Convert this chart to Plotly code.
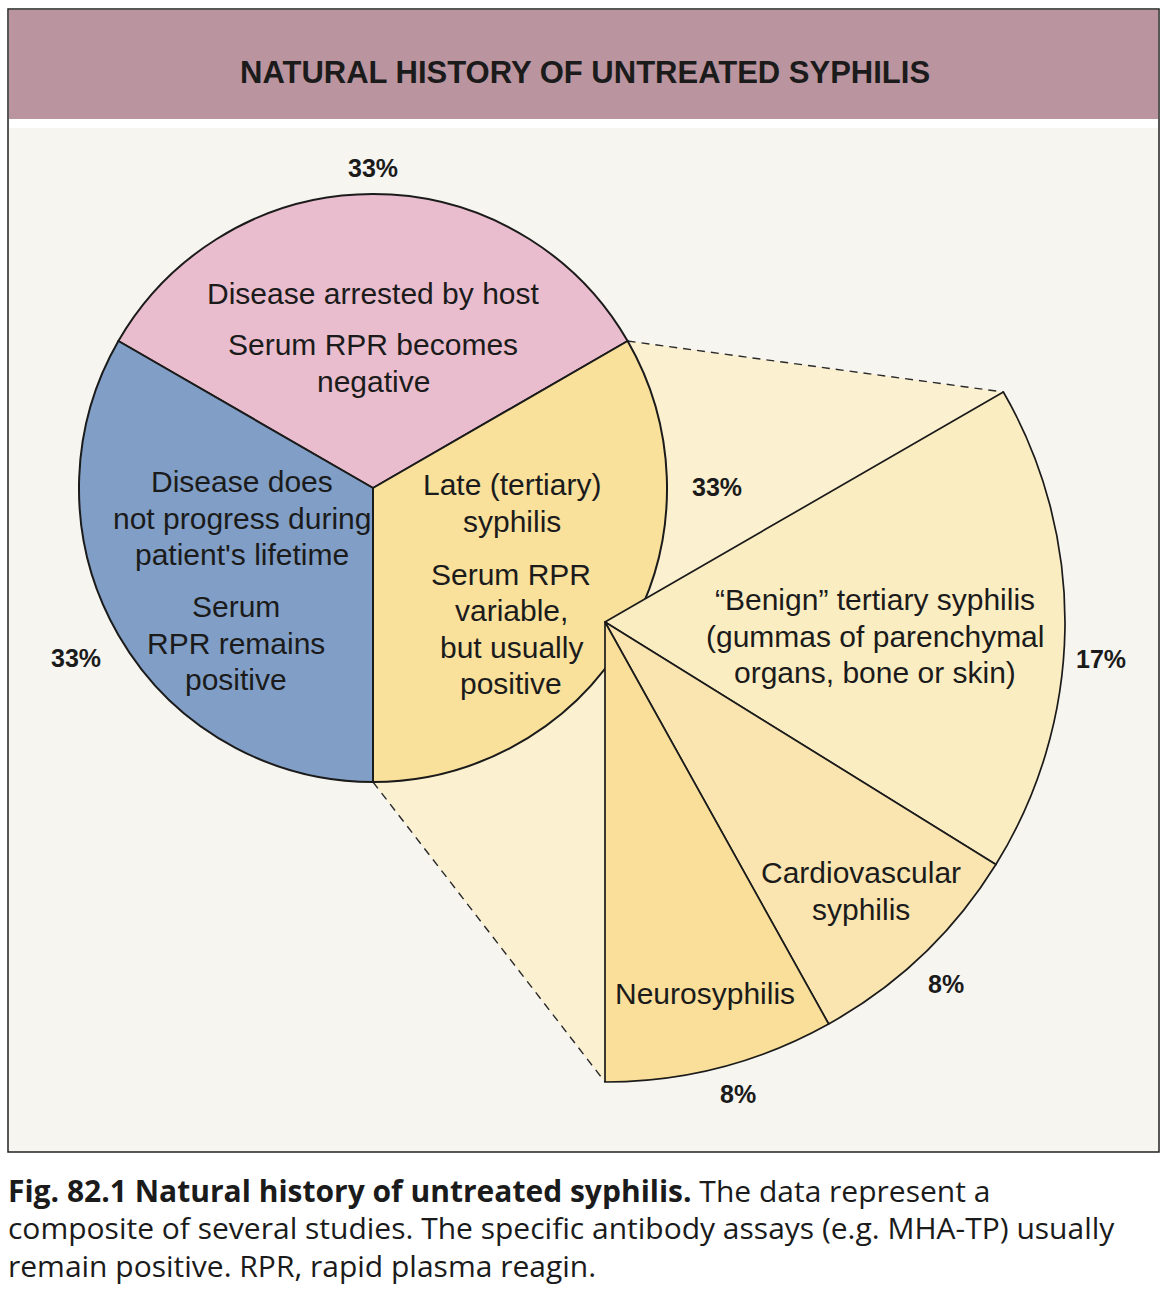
import math
import plotly.graph_objects as go

# ---------------- data ----------------
main_labels = ["Disease arrested by host", "Late (tertiary) syphilis", "Disease does not progress"]
main_values = [33, 33, 33]
main_colors = ["#E9BDCD", "#F9E09B", "#819FC6"]

late_labels = ["Benign tertiary syphilis", "Cardiovascular syphilis", "Neurosyphilis"]
late_values = [17, 8, 8]
late_colors = ["#FBEDC2", "#FAE5B0", "#F9DF99"]

title_text = "NATURAL HISTORY OF UNTREATED SYPHILIS"
caption_bold = "Fig. 82.1 Natural history of untreated syphilis."
caption_rest = [" The data represent a",
                "composite of several studies. The specific antibody assays (e.g. MHA-TP) usually",
                "remain positive. RPR, rapid plasma reagin."]

# slice texts (lines, x, y-centre) in pixel positions
slice_texts = [
    (["Disease arrested by host"], 373, 293),
    (["Serum RPR becomes", "negative"], 373, 363),
    (["Disease does", "not progress during", "patient's lifetime"], 242, 518),
    (["Serum", "RPR remains", "positive"], 236, 643),
    (["Late (tertiary)", "syphilis"], 512, 503),
    (["Serum RPR", "variable,", "but usually", "positive"], 511, 629),
    (["“Benign” tertiary syphilis", "(gummas of parenchymal", "organs, bone or skin)"], 875, 636),
    (["Cardiovascular", "syphilis"], 861, 891),
    (["Neurosyphilis"], 705, 994),
]
pct_texts = [
    (f"{main_values[0]}%", 373, 168),
    (f"{main_values[1]}%", 717, 487),
    (f"{main_values[2]}%", 76, 658),
    (f"{late_values[0]}%", 1101, 659),
    (f"{late_values[1]}%", 946, 984),
    (f"{late_values[2]}%", 738, 1094),
]

# ---------------- geometry ----------------
W, H = 1168, 1290
MC = (373, 488); MR = 294      # main pie centre / radius (px)
EC = (605, 622); ER = 460      # exploded pie centre / radius (px)
LINE_PITCH = 36.5

def px(x):
    return x / W

def py(y):
    return 1 - y / H

def pt(c, r, ang):
    a = math.radians(ang)
    return (c[0] + r * math.cos(a), c[1] - r * math.sin(a))

FONT = "Liberation Sans, Arial, Helvetica, sans-serif"
INK = "#1b1b1b"

fig = go.Figure()

fig.add_trace(go.Pie(
    labels=main_labels, values=main_values, sort=False, direction="clockwise",
    rotation=-60, textinfo="none", hoverinfo="skip", showlegend=False,
    marker=dict(colors=main_colors, line=dict(color=INK, width=2)),
    domain=dict(x=[px(MC[0] - MR), px(MC[0] + MR)], y=[py(MC[1] + MR), py(MC[1] - MR)]),
))

blank = 2 * sum(late_values)
fig.add_trace(go.Pie(
    labels=late_labels + ["rest"], values=late_values + [blank], sort=False,
    direction="clockwise", rotation=60, textinfo="none", hoverinfo="skip", showlegend=False,
    marker=dict(colors=late_colors + ["rgba(0,0,0,0)"],
                line=dict(color=[INK, INK, INK, "rgba(0,0,0,0)"], width=[1.7, 1.7, 1.7, 0])),
    domain=dict(x=[px(EC[0] - ER), px(EC[0] + ER)], y=[py(EC[1] + ER), py(EC[1] - ER)]),
))

# connector geometry (derived from pie angles)
A = pt(MC, MR, 30)
B = pt(MC, MR, -90)
C = pt(EC, ER, 30)
D = pt(EC, ER, -90)

def path(points):
    return "M " + " L ".join(f"{px(x):.5f},{py(y):.5f}" for x, y in points) + " Z"

shapes = [
    dict(type="rect", xref="paper", yref="paper", x0=px(8), x1=px(1159), y0=py(1152), y1=py(9),
         fillcolor="#F6F5F0", line=dict(color="#222222", width=1.5), layer="below"),
    dict(type="rect", xref="paper", yref="paper", x0=px(9), x1=px(1158), y0=py(119), y1=py(10),
         fillcolor="#BA949F", line=dict(width=0), layer="below"),
    dict(type="rect", xref="paper", yref="paper", x0=px(9), x1=px(1158), y0=py(128), y1=py(119),
         fillcolor="#FFFFFF", line=dict(width=0), layer="below"),
    dict(type="path", xref="paper", yref="paper", path=path([A, C, EC, D, B]),
         fillcolor="#FBF0CF", line=dict(width=0), layer="below"),
    dict(type="line", xref="paper", yref="paper", x0=px(A[0]), y0=py(A[1]), x1=px(C[0]), y1=py(C[1]),
         line=dict(color="#2a2a2a", width=1.4, dash="8px,6px"), layer="below"),
    dict(type="line", xref="paper", yref="paper", x0=px(B[0]), y0=py(B[1]), x1=px(D[0]), y1=py(D[1]),
         line=dict(color="#2a2a2a", width=1.4, dash="8px,6px"), layer="below"),
]

ann = []
ann.append(dict(text=f"<b>{title_text}</b>", x=px(585), y=py(72), xref="paper", yref="paper",
                xanchor="center", yanchor="middle",
                showarrow=False, font=dict(family=FONT, size=31, color=INK)))
for lines, x, y in slice_texts:
    n = len(lines)
    for i, t in enumerate(lines):
        yy = y + (i - (n - 1) / 2) * LINE_PITCH
        ann.append(dict(text=t, x=px(x), y=py(yy), xref="paper", yref="paper", showarrow=False,
                        xanchor="center", yanchor="middle",
                        font=dict(family=FONT, size=30, color=INK)))
for t, x, y in pct_texts:
    ann.append(dict(text=f"<b>{t}</b>", x=px(x), y=py(y), xref="paper", yref="paper",
                    xanchor="center", yanchor="middle",
                    showarrow=False, font=dict(family=FONT, size=25, color=INK)))

cap_lines = [f"<b>{caption_bold}</b>{caption_rest[0]}", caption_rest[1], caption_rest[2]]
for i, t in enumerate(cap_lines):
    ann.append(dict(text=t, x=px(6), y=py(1190 + i * 37.5), xref="paper", yref="paper",
                    showarrow=False, xanchor="left", yanchor="middle", align="left",
                    font=dict(family="Open Sans, sans-serif", size=30, color=INK)))

fig.update_layout(
    width=W, height=H, autosize=False,
    margin=dict(l=0, r=0, t=0, b=0),
    paper_bgcolor="#FFFFFF", plot_bgcolor="#FFFFFF",
    shapes=shapes, annotations=ann,
)

fig.write_html("out.html", config={"displayModeBar": False},
               post_script="document.body.style.margin='0';document.body.style.padding='0';")
